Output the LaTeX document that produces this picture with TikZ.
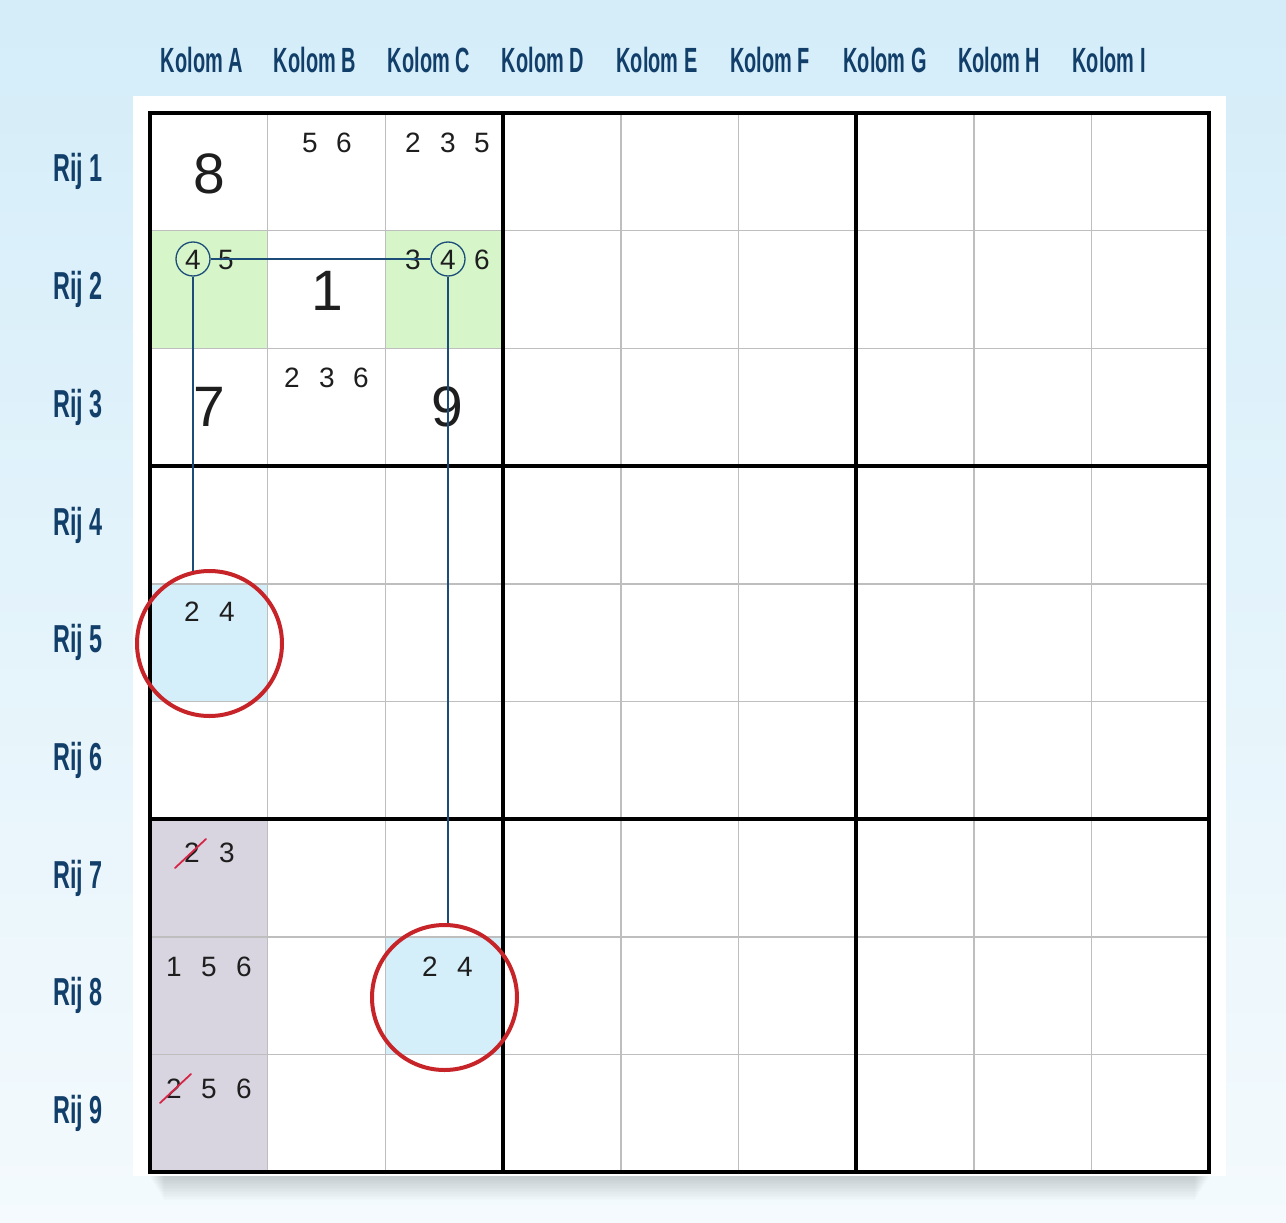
\documentclass[tikz,border=0pt]{standalone}
\usepackage{fontspec}
\setmainfont{Liberation Sans}
\usetikzlibrary{calc}
\definecolor{bgtop}{RGB}{212,237,249}
\definecolor{bgbot}{RGB}{244,250,253}
\definecolor{navy}{RGB}{18,62,106}
\definecolor{linkblue}{RGB}{28,76,120}
\definecolor{ringred}{RGB}{198,36,40}
\definecolor{slashred}{RGB}{214,38,70}
\definecolor{greenfill}{RGB}{214,246,202}
\definecolor{bluefill}{RGB}{212,238,250}
\definecolor{greyfill}{RGB}{216,213,224}
\definecolor{thingrey}{RGB}{190,190,190}
\definecolor{digit}{RGB}{30,30,30}
\tikzset{
  collabel/.style={font=\fontsize{35}{35}\selectfont\bfseries, text=navy, inner sep=0},
  rowlabel/.style={font=\fontsize{39}{39}\selectfont\bfseries, text=navy, inner sep=0},
  bigdigit/.style={font=\fontsize{57}{57}\selectfont, text=digit, inner sep=0},
  cand/.style={font=\fontsize{28}{28}\selectfont, text=digit, inner sep=0},
  ring4/.style={circle, draw=linkblue, line width=1.3pt, minimum size=34pt, inner sep=0},
  redring/.style={circle, draw=ringred, line width=4pt, minimum size=145pt, inner sep=0},
  link/.style={draw=linkblue, line width=1.4pt},
  slash/.style={draw=slashred, line width=1.8pt, line cap=round},
  thin/.style={draw=thingrey, line width=1.4pt},
  thick/.style={draw=black, line width=3.6pt},
}
\begin{document}
\begin{tikzpicture}[x=1pt,y=-1pt]
\useasboundingbox (0,0) rectangle (1286,1223);
% background
\shade[top color=bgtop, bottom color=bgbot] (0,0) rectangle (1286,1223);
% shadow and panel
\foreach \k in {0,...,14} {
  \fill[black, opacity=0.012] ({150+\k},{1172}) rectangle ({1209-\k},{1178+1.6*\k});
}
\fill[white] (133,96) rectangle (1226,1176);
% cell fills
\def\L{150}\def\T{113}\def\C{117.7}
\fill[greenfill] ({\L},{\T+\C}) rectangle ({\L+\C},{\T+2*\C});
\fill[greenfill] ({\L+2*\C},{\T+\C}) rectangle ({\L+3*\C},{\T+2*\C});
\fill[bluefill] ({\L},{\T+4*\C}) rectangle ({\L+\C},{\T+5*\C});
\fill[bluefill] ({\L+2*\C},{\T+7*\C}) rectangle ({\L+3*\C},{\T+8*\C});
\fill[greyfill] ({\L},{\T+6*\C}) rectangle ({\L+\C},{\T+9*\C});
% thin grid lines
\foreach \i in {1,2,4,5,7,8} {
  \draw[thin] ({\L+\i*\C},{\T}) -- ({\L+\i*\C},{\T+9*\C});
  \draw[thin] ({\L},{\T+\i*\C}) -- ({\L+9*\C},{\T+\i*\C});
}
\foreach \i in {3,6} {
  \draw[thick] ({\L+\i*\C},{\T}) -- ({\L+\i*\C},{\T+9*\C});
  \draw[thick] ({\L},{\T+\i*\C}) -- ({\L+9*\C},{\T+\i*\C});
}
\draw[thick, line width=4.2pt] ({\L},{\T}) rectangle ({\L+9*\C},{\T+9*\C});
% column labels
\foreach \x/\n [count=\j] in {202/A,315/B,429/C,543/D,657/E,770/F,885/G,999/H,1109/I} {
  \node[collabel] (col\j) at (\x,60) {\scalebox{0.57}[1]{Kolom \n}};
}
% row labels
\foreach \r in {1,...,9} {
  \node[rowlabel] (row\r) at (78,{\T+(\r-0.5)*\C}) {\scalebox{0.6}[1]{Rij \r}};
}
% big digits
\node[bigdigit] (g11) at (209,174) {8};
\node[bigdigit] (g22) at (327,291) {1};
\node[bigdigit] (g31) at (209,407) {7};
\node[bigdigit] (g33) at (447,407) {9};
% candidates row 1
\node[cand] (b1a) at (310,143) {5};
\node[cand] (b1b) at (344,143) {6};
\node[cand] (c1a) at (413,143) {2};
\node[cand] (c1b) at (448,143) {3};
\node[cand] (c1c) at (482,143) {5};
% row 2
\node[cand] (a2a) at (193,260) {4};
\node[cand] (a2b) at (226,260) {5};
\node[cand] (c2a) at (413,260) {3};
\node[cand] (c2b) at (448,260) {4};
\node[cand] (c2c) at (482,260) {6};
% row 3
\node[cand] (b3a) at (292,378) {2};
\node[cand] (b3b) at (327,378) {3};
\node[cand] (b3c) at (361,378) {6};
% row 5
\node[cand] (a5a) at (192,612) {2};
\node[cand] (a5b) at (227,612) {4};
% row 7
\node[cand] (a7a) at (192,853) {2};
\node[cand] (a7b) at (227,853) {3};
% row 8
\node[cand] (a8a) at (174,967) {1};
\node[cand] (a8b) at (209,967) {5};
\node[cand] (a8c) at (244,967) {6};
\node[cand] (c8a) at (430,967) {2};
\node[cand] (c8b) at (465,967) {4};
% row 9
\node[cand] (a9a) at (174,1089) {2};
\node[cand] (a9b) at (209,1089) {5};
\node[cand] (a9c) at (244,1089) {6};
% strike-throughs
\draw[slash] ($(a7a.center)+(-17,15)$) -- ($(a7a.center)+(14,-14)$);
\draw[slash] ($(a9a.center)+(-14,14)$) -- ($(a9a.center)+(17,-15)$);
% rings around the 4s
\node[ring4] (r4a) at (193,259) {};
\node[ring4] (r4c) at (448,259) {};
% red rings
\node[redring] (ra5) at (209.5,643.5) {};
\node[redring] (rc8) at (444.5,997.5) {};
% links
\draw[link] (r4a.east) -- (r4c.west);
\draw[link, shorten >=-1.5pt] (r4a.south) -- (r4a.south |- ra5.north);
\draw[link] (r4c.south) -- (r4c.south |- rc8.north);
\end{tikzpicture}
\end{document}
